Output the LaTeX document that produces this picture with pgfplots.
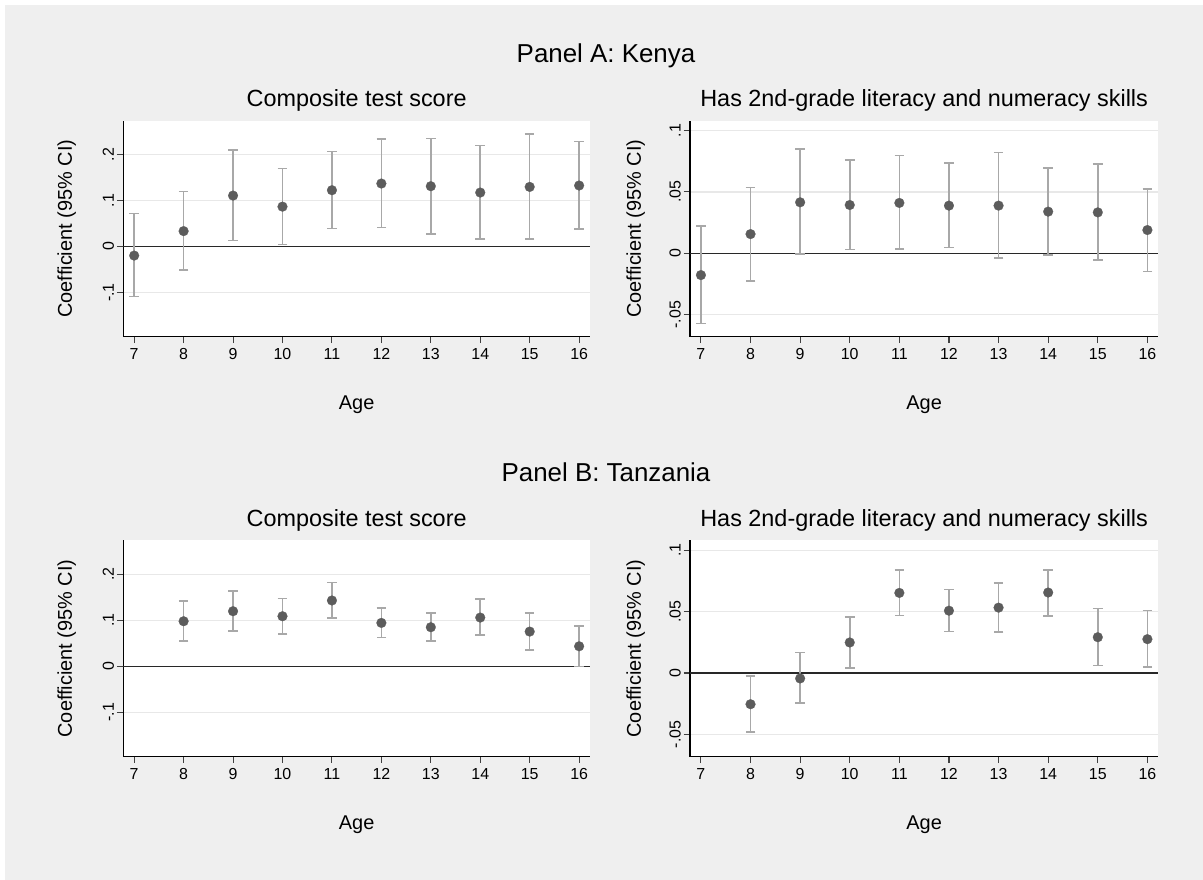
\documentclass[border=0pt]{standalone}
\usepackage{pgfplots}
\usepackage{pgfplotstable}
\pgfplotsset{compat=1.18}
\usepackage{fontspec}
\setmainfont{Liberation Sans}

\definecolor{bg}{RGB}{239,239,239}
\definecolor{mk}{RGB}{92,92,92}
\definecolor{ci}{RGB}{168,168,168}
\definecolor{gridc}{RGB}{232,232,232}
\definecolor{zeroc}{RGB}{40,40,40}

\newcommand{\tlfont}{\fontsize{16}{16}\selectfont}

\pgfplotstableread{
x y lo hi
7 -0.0197 -0.109 0.0714
8 0.0335 -0.051 0.120
9 0.1107 0.0131 0.2098
10 0.0867 0.0044 0.1697
11 0.1224 0.0393 0.2068
12 0.1369 0.0415 0.2331
13 0.1311 0.0277 0.2352
14 0.1173 0.016 0.2192
15 0.1296 0.016 0.2447
16 0.1326 0.0386 0.228
}\kenyaComp

\pgfplotstableread{
x y lo hi
7 -0.0178 -0.0574 0.0221
8 0.0156 -0.0224 0.0536
9 0.0415 -0.0008 0.0847
10 0.0393 0.003 0.076
11 0.041 0.0036 0.0795
12 0.0388 0.0046 0.0735
13 0.0388 -0.0038 0.082
14 0.0339 -0.0014 0.0694
15 0.0333 -0.0057 0.0727
16 0.0189 -0.0148 0.0525
}\kenyaSkill

\pgfplotstableread{
x y lo hi
8 0.098 0.0552 0.1416
9 0.1198 0.0763 0.1641
10 0.1089 0.0704 0.1474
11 0.1431 0.1053 0.1823
12 0.0944 0.0625 0.1271
13 0.085 0.0545 0.1155
14 0.106 0.0675 0.146
15 0.0755 0.0349 0.1162
16 0.0436 0.0 0.0879
}\tanzComp

\pgfplotstableread{
x y lo hi
8 -0.0254 -0.0481 -0.0025
9 -0.0044 -0.0246 0.0167
10 0.0249 0.0041 0.0456
11 0.0653 0.047 0.0842
12 0.0508 0.0339 0.068
13 0.0533 0.0333 0.0735
14 0.0656 0.0464 0.0842
15 0.0292 0.0063 0.0527
16 0.0276 0.0049 0.0508
}\tanzSkill

\pgfplotsset{
  stata/.style={
    scale only axis,
    height=216bp,
    axis x line*=bottom, axis y line*=left,
    axis line style={black, line width=1.1bp, -},
    axis background/.style={fill=white},
    xmin=6.78, xmax=16.22, xtick={7,8,...,16},
    xticklabels={7,8,9,10,11,12,13,14,15,16},
    /pgf/number format/assume math mode=true,
    tick align=outside, major tick length=6.5bp,
    tick style={line width=1.1bp, black!75},
    ymajorgrids, grid style={gridc, line width=1.4bp},
    xticklabel style={font=\tlfont, anchor=base, inner sep=0pt},
    yticklabel style={font=\tlfont, rotate=90, anchor=base, inner sep=0pt},
    xticklabel shift=16bp,
    yticklabel shift=3bp,
    title style={font=\fontsize{23.5}{23.5}\selectfont, at={(axis description cs:0.5,1)}, anchor=base, yshift=8bp},
    xlabel={Age},
    xlabel style={font=\fontsize{20}{20}\selectfont, at={(axis description cs:0.5,0)}, anchor=base, yshift=-73.3bp},
    ylabel={Coefficient (95\% CI)},
    ylabel style={font=\fontsize{20}{20}\selectfont, anchor=center},
    clip=false,
  },
  leftpanel/.style={stata, width=466.7bp, ymin=-0.196, ymax=0.2735,
    ytick={-0.1,0,0.1,0.2}, yticklabels={-.1,0,.1,.2},
    ylabel style={at={(axis description cs:-0.1213,0.5)}}},
  rightpanel/.style={stata, width=468.3bp, ymin=-0.068, ymax=0.108,
    ytick={-0.05,0,0.05,0.1}, yticklabels={-.05,0,.05,.1},
    ylabel style={at={(axis description cs:-0.1160,0.5)}}},
  ciplot/.style={only marks, mark=*, mark size=4.9bp,
    mark options={fill=mk, draw=mk, line width=0.2bp},
    error bars/.cd, y dir=both, y explicit,
    error bar style={ci, line width=1.6bp},
    error mark options={ci, line width=1.6bp, mark size=4.8bp, rotate=90}},
}

\begin{document}
\begin{tikzpicture}
\fill[white] (0,0) rectangle (1203bp,880bp);
\fill[bg] (5bp,0) rectangle (1203bp,875bp);

\node[font=\fontsize{26}{26}\selectfont, anchor=base] at (606bp,817.7bp) {Panel A: Kenya};
\node[font=\fontsize{26}{26}\selectfont, anchor=base] at (606bp,398.4bp) {Panel B: Tanzania};

% Panel A left
\begin{axis}[leftpanel, at={(123.3bp,543.3bp)}, anchor=south west, title={Composite test score}]
\addplot[zeroc, line width=1.4bp, forget plot] coordinates {(6.78,0) (16.22,0)};
\addplot[ciplot] table[x=x, y=y, y error plus expr=\thisrow{hi}-\thisrow{y}, y error minus expr=\thisrow{y}-\thisrow{lo}] {\kenyaComp};
\end{axis}

% Panel A right
\begin{axis}[rightpanel, at={(690bp,543.3bp)}, anchor=south west, title={Has 2nd-grade literacy and numeracy skills}]
\addplot[zeroc, line width=1.4bp, forget plot] coordinates {(6.78,0) (16.22,0)};
\addplot[ciplot] table[x=x, y=y, y error plus expr=\thisrow{hi}-\thisrow{y}, y error minus expr=\thisrow{y}-\thisrow{lo}] {\kenyaSkill};
\end{axis}

% Panel B left
\begin{axis}[leftpanel, at={(123.3bp,123.5bp)}, anchor=south west, title={Composite test score}]
\addplot[zeroc, line width=1.4bp, forget plot] coordinates {(6.78,0) (16.22,0)};
\addplot[ciplot] table[x=x, y=y, y error plus expr=\thisrow{hi}-\thisrow{y}, y error minus expr=\thisrow{y}-\thisrow{lo}] {\tanzComp};
\end{axis}

% Panel B right
\begin{axis}[rightpanel, at={(690bp,123.5bp)}, anchor=south west, title={Has 2nd-grade literacy and numeracy skills}]
\addplot[zeroc, line width=1.4bp, forget plot] coordinates {(6.78,0) (16.22,0)};
\addplot[ciplot] table[x=x, y=y, y error plus expr=\thisrow{hi}-\thisrow{y}, y error minus expr=\thisrow{y}-\thisrow{lo}] {\tanzSkill};
\end{axis}
\end{tikzpicture}
\end{document}
